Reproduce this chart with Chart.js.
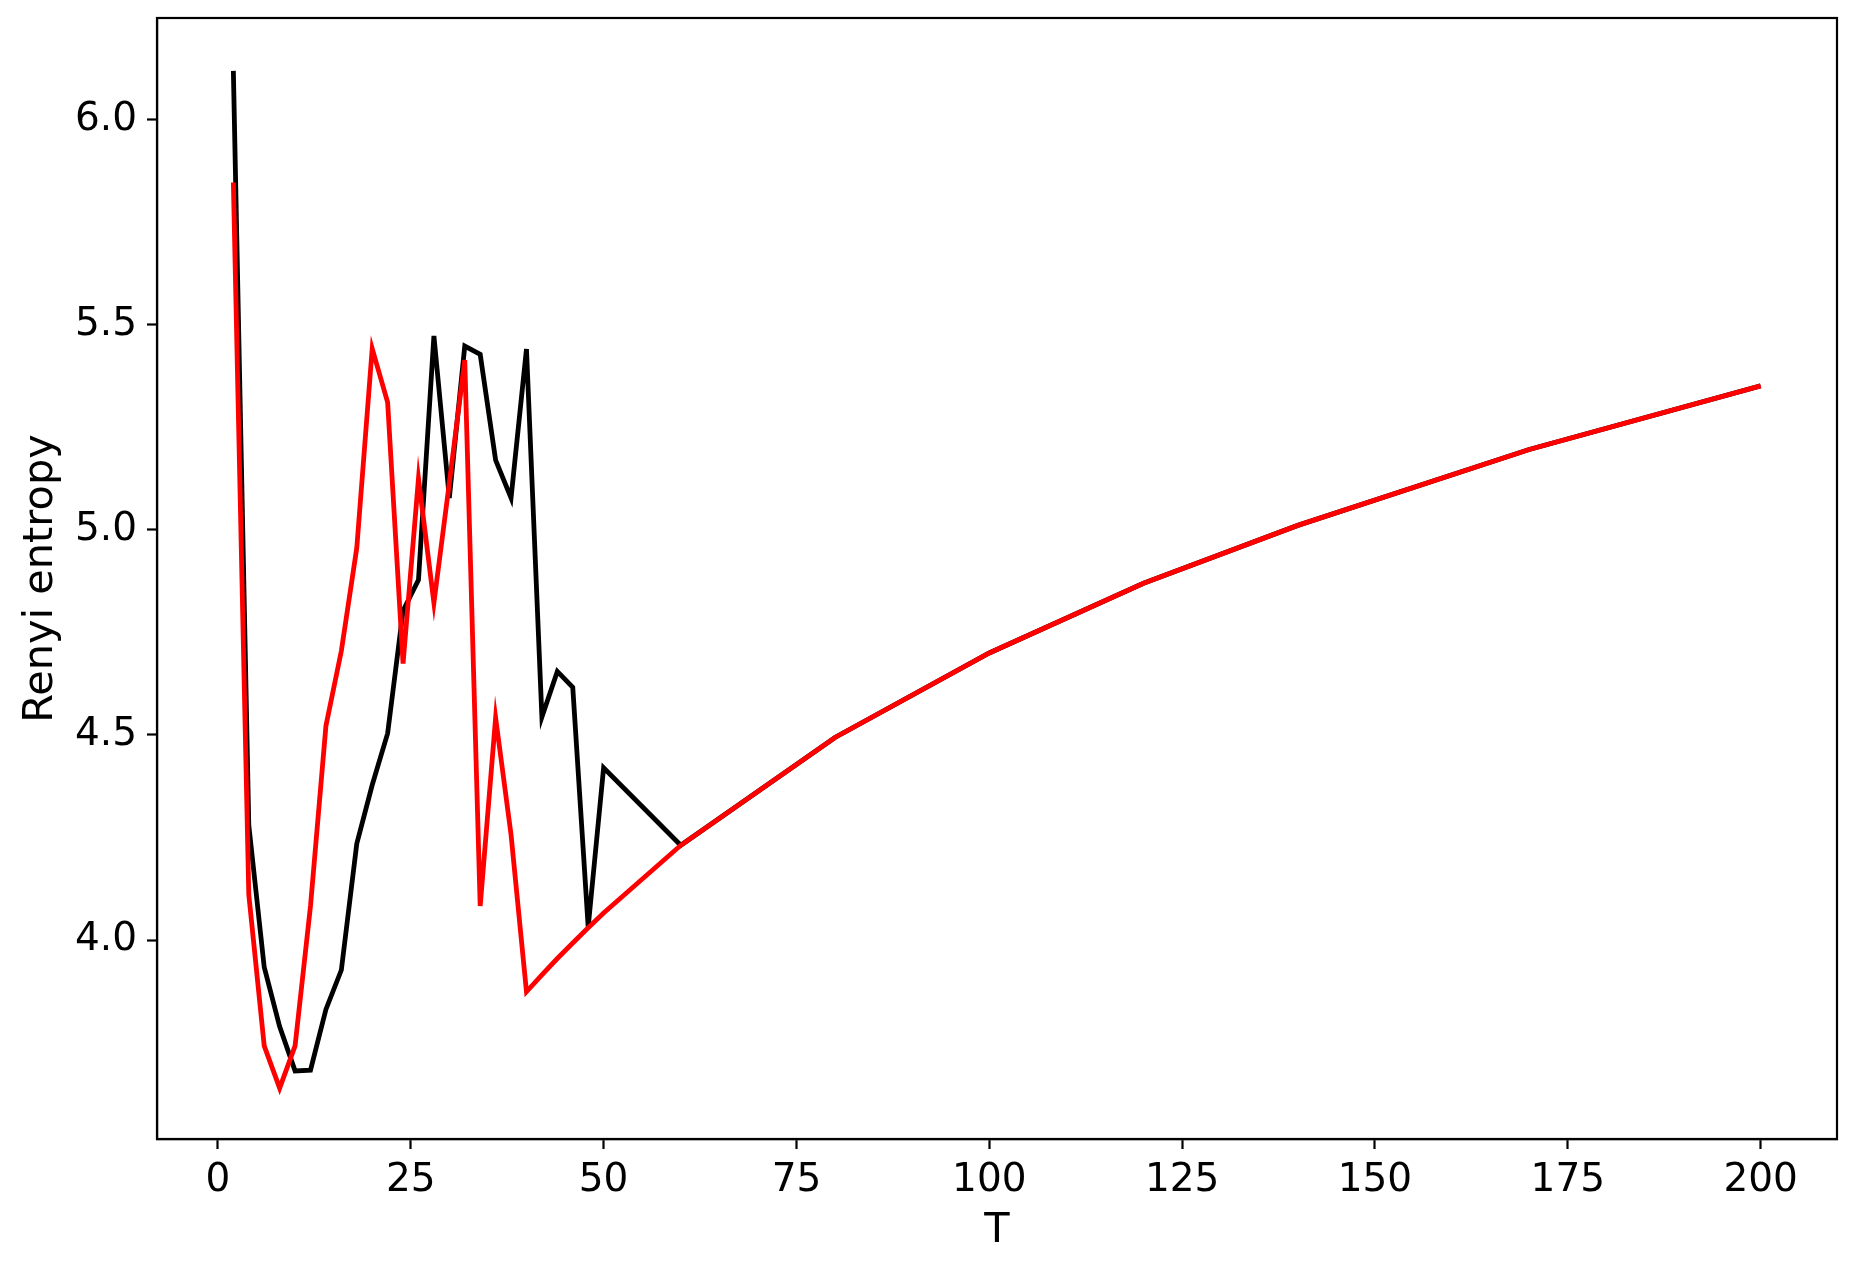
<!DOCTYPE html>
<html>
<head>
<meta charset="utf-8">
<title>Renyi entropy vs T</title>
<script src="https://cdn.jsdelivr.net/npm/chart.js@4.4.1/dist/chart.umd.min.js"></script>
<style>
    html, body { margin: 0; padding: 0; background: #fff; }
    #wrap { width: 1856px; height: 1270px; }
</style>
</head>
<body>
<div id="wrap"><canvas id="entropyChart" width="1856" height="1270"></canvas></div>
<script>
// T values shared by both curves
const tValues = [2, 4, 6, 8, 10, 12, 14, 16, 18, 20, 22, 24, 26, 28, 30, 32, 34, 36, 38, 40,
    42, 44, 46, 48, 50, 60, 80, 100, 120, 140, 170, 200];

const blackSeries = [6.119, 4.28, 3.934, 3.789, 3.681, 3.683, 3.831, 3.927, 4.235, 4.378,
    4.504, 4.803, 4.878, 5.473, 5.078, 5.448, 5.428, 5.170, 5.078, 5.441,
    4.544, 4.655, 4.616, 4.032, 4.420, 4.231, 4.494, 4.700, 4.870, 5.011, 5.196, 5.351];

const redSeries = [5.847, 4.111, 3.742, 3.639, 3.742, 4.083, 4.522, 4.705, 4.956, 5.442,
    5.311, 4.674, 5.125, 4.822, 5.115, 5.414, 4.083, 4.542, 4.257, 3.874,
    3.915, 3.955, 3.993, 4.030, 4.066, 4.231, 4.494, 4.700, 4.870, 5.011, 5.196, 5.351];

const xTicks = [0, 25, 50, 75, 100, 125, 150, 175, 200];
const yTicks = [4.0, 4.5, 5.0, 5.5, 6.0];

const toPoints = ys => tValues.map((t, i) => ({ x: t, y: ys[i] }));

const FONT = { family: 'DejaVu Sans', size: 39 };
const TITLE_FONT = { family: 'DejaVu Sans', size: 41.5 };

// full box around the plot area (matplotlib style spines)
const frame = {
    id: 'frame',
    afterDraw(chart) {
        const { ctx, chartArea: a } = chart;
        ctx.save();
        ctx.strokeStyle = '#000';
        ctx.lineWidth = 2.2;
        ctx.strokeRect(a.left, a.top, a.right - a.left, a.bottom - a.top);
        ctx.restore();
    },
};

new Chart(document.querySelector('#entropyChart'), {
    type: 'line',
    data: {
        datasets: [
            {
                label: 'black',
                data: toPoints(blackSeries),
                borderColor: '#000000',
                borderWidth: 4.8,
                pointRadius: 0,
                tension: 0,
                order: 1,
            },
            {
                label: 'red',
                data: toPoints(redSeries),
                borderColor: '#ff0000',
                borderWidth: 4.8,
                pointRadius: 0,
                tension: 0,
                order: 0,
            },
        ],
    },
    options: {
        responsive: false,
        animation: false,
        devicePixelRatio: 1,
        layout: { padding: { top: 18, right: 19, left: 0, bottom: 0 } },
        plugins: { legend: { display: false }, tooltip: { enabled: false } },
        scales: {
            x: {
                type: 'linear',
                min: -7.9,
                max: 209.9,
                afterBuildTicks: s => { s.ticks = xTicks.map(v => ({ value: v })); },
                afterFit: s => { s.height = 131; s.paddingLeft = 0; s.paddingRight = 0; },
                grid: { drawOnChartArea: false, tickLength: 10, tickWidth: 2.2, tickColor: '#000' },
                border: { display: true, color: '#000', width: 2.2 },
                ticks: { color: '#000', font: FONT, padding: 8, maxRotation: 0, autoSkip: false },
                title: { display: true, text: 'T', color: '#000', font: TITLE_FONT, padding: { top: 0, bottom: 14 } },
            },
            y: {
                type: 'linear',
                min: 3.515,
                max: 6.248,
                afterBuildTicks: s => { s.ticks = yTicks.map(v => ({ value: v })); },
                afterFit: s => { s.width = 157; s.paddingTop = 0; s.paddingBottom = 0; },
                grid: { drawOnChartArea: false, tickLength: 10, tickWidth: 2.2, tickColor: '#000' },
                border: { display: true, color: '#000', width: 2.2 },
                ticks: { color: '#000', font: FONT, padding: 10, callback: v => v.toFixed(1) },
                title: { display: true, text: 'Renyi entropy', color: '#000', font: TITLE_FONT, padding: { top: 16, bottom: 0 } },
            },
        },
    },
    plugins: [frame],
});
</script>
</body>
</html>
